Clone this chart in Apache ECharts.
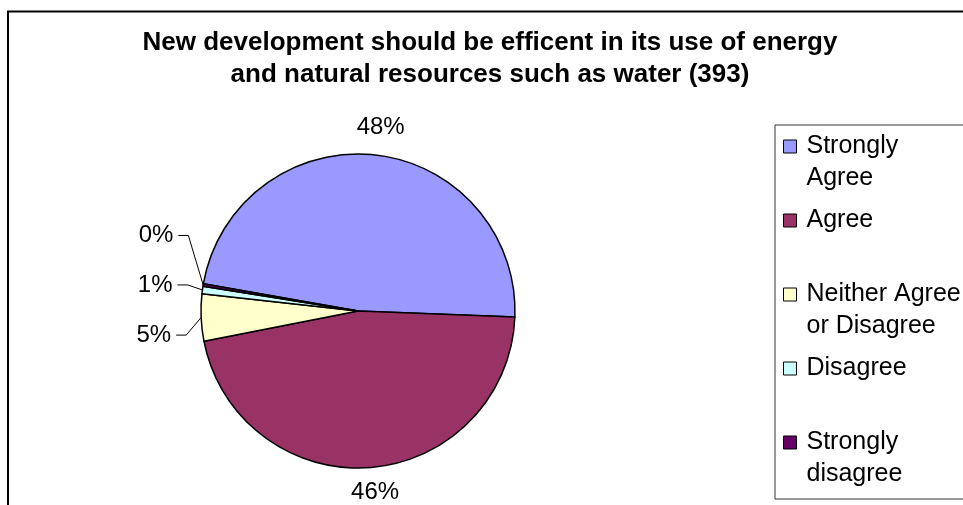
<!DOCTYPE html>
<html>
<head>
<meta charset="utf-8">
<style>
  html, body { margin: 0; padding: 0; background: #fff; }
  #chart { width: 963px; height: 505px; }
</style>
<script src="https://cdn.jsdelivr.net/npm/echarts@6/dist/echarts.min.js"></script>
</head>
<body>
<div id="chart"></div>
<script>
// Survey responses (393 replies)
const categories = ['Strongly Agree', 'Agree', 'Neither Agree or Disagree', 'Disagree', 'Strongly disagree'];
const responses = [188, 182, 19, 3, 1];
const sliceColors = ['#9999FF', '#993366', '#FFFFCC', '#CCFFFF', '#660066'];
// Legend entries wrapped onto two lines
const legendLines = ['Strongly\nAgree', 'Agree\n\u00a0', 'Neither Agree\nor Disagree', 'Disagree\n\u00a0', 'Strongly\ndisagree'];
const titleText = 'New development should be efficent in its use of energy\nand natural resources such as water (393)';

// Label placement tweaks: leader-line lengths and vertical nudges for the thin slices
const leaderLen = [28, 25, 15, 15, 15];
const leaderLen2 = [0, 0, 10, 10, 10];
const showLeader = [false, false, true, true, true];
const labelGap = [3, 3, 5, 5, 5];
const labelNudge = [0, 0, 17, -3, -47];

const FONT = '"Liberation Sans", Arial, sans-serif';

const chart = echarts.init(document.getElementById('chart'), null, { renderer: 'canvas' });

const seriesData = categories.map((name, i) => ({
  name: name,
  value: responses[i],
  itemStyle: { color: sliceColors[i] },
  label: { distanceToLabelLine: labelGap[i] },
  labelLine: { show: showLeader[i], length: leaderLen[i], length2: leaderLen2[i] }
}));

chart.setOption({
  backgroundColor: '#ffffff',
  animation: false,
  title: {
    text: titleText,
    left: 490,
    top: 27,
    padding: 0,
    textAlign: 'center',
    textStyle: {
      fontFamily: FONT,
      fontSize: 26,
      fontWeight: 'bold',
      lineHeight: 32,
      color: '#000'
    }
  },
  legend: {
    orient: 'vertical',
    left: 775,
    top: 125,
    padding: [5, 40, 8, 8],
    itemGap: 9,
    itemWidth: 13,
    itemHeight: 64,
    // square swatch sitting beside the first text line
    icon: 'path://M0,0M13,64M0,9.5h13v13h-13z',
    borderColor: '#333',
    borderWidth: 1,
    backgroundColor: '#fff',
    selectedMode: false,
    data: categories,
    formatter: name => legendLines[categories.indexOf(name)],
    itemStyle: { borderColor: '#000', borderWidth: 1 },
    textStyle: {
      fontFamily: FONT,
      fontSize: 25,
      lineHeight: 32,
      color: '#000',
      padding: [0, 0, 0, 5]
    }
  },
  graphic: [{
    type: 'rect',
    silent: true,
    shape: { x: 8, y: 11.5, width: 1100, height: 700 },
    style: { fill: 'none', stroke: '#000', lineWidth: 2 },
    z: 100
  }],
  series: [{
    type: 'pie',
    center: [358, 311],
    radius: 157,
    startAngle: 170,
    clockwise: true,
    avoidLabelOverlap: false,
    data: seriesData,
    itemStyle: { borderColor: '#000', borderWidth: 1.5 },
    emphasis: { disabled: true },
    label: {
      show: true,
      position: 'outside',
      fontFamily: FONT,
      fontSize: 24,
      color: '#000',
      formatter: p => Math.round(p.percent) + '%'
    },
    labelLine: {
      lineStyle: { color: '#000', width: 1 }
    },
    labelLayout: function (p) {
      const out = {};
      if (!showLeader[p.dataIndex]) {
        out.align = 'center';
      }
      const shift = labelNudge[p.dataIndex];
      if (shift) {
        out.y = p.labelRect.y + p.labelRect.height / 2 + shift;
        if (p.labelLinePoints) {
          out.labelLinePoints = p.labelLinePoints.map((pt, i) => i === 0 ? [pt[0], pt[1]] : [pt[0], pt[1] + shift]);
        }
      }
      return out;
    }
  }]
});
</script>
</body>
</html>
